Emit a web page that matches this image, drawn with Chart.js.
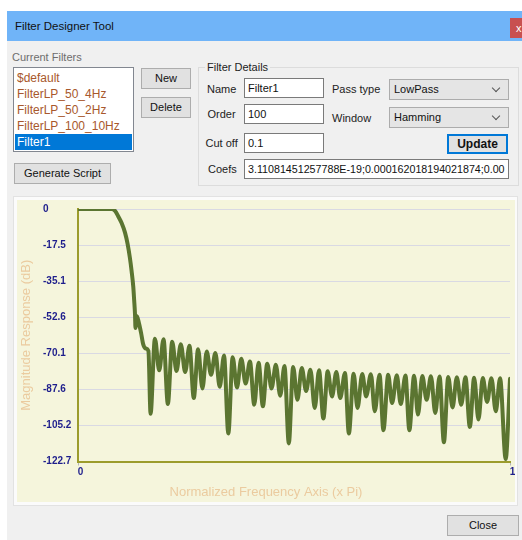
<!DOCTYPE html>
<html><head><meta charset="utf-8">
<script src="https://cdn.jsdelivr.net/npm/chart.js@4.4.1/dist/chart.umd.min.js"></script>
<style>
html,body{margin:0;padding:0;background:#fff;width:522px;height:540px;overflow:hidden;font-family:"Liberation Sans",Arial,sans-serif;font-size:11px;color:#1e1e1e}
.a{position:absolute;box-sizing:border-box}
.lbl{position:absolute;line-height:14px;white-space:nowrap;color:#222}
.btn{position:absolute;box-sizing:border-box;background:#e1e1e1;border:1px solid #adadad;text-align:center;white-space:nowrap;color:#111;line-height:19px}
.tb{position:absolute;box-sizing:border-box;background:#fff;border:1px solid #7a7a7a;padding-left:3px;white-space:nowrap;overflow:hidden;color:#111;height:20px;line-height:18px}
.cb{position:absolute;box-sizing:border-box;background:#e5e5e5;border:1px solid #acacac;padding-left:4px;color:#111;height:21px;line-height:19px;width:120px;left:389px}
.chev{position:absolute;right:9px;top:5px;width:5px;height:5px;border-right:1px solid #555;border-bottom:1px solid #555;transform:rotate(45deg)}
.item{position:absolute;left:15px;width:117px;height:16px;line-height:16px;padding-left:2px;font-size:12px;color:#a8582c;white-space:nowrap;box-sizing:border-box}
</style></head>
<body>
<div class="a" style="left:7px;top:11px;width:515px;height:30px;background:#70b4f8"></div>
<div class="lbl" style="left:15px;top:19px;font-size:11.5px;color:#111">Filter Designer Tool</div>
<div class="a" style="left:510px;top:18px;width:12px;height:20px;background:#c85050;color:#fff;line-height:20px;padding-left:6px;font-size:11px">x</div>
<div class="a" style="left:7px;top:41px;width:515px;height:499px;background:#f0f0f0"></div>

<div class="lbl" style="left:12px;top:50px;color:#6d6d6d">Current Filters</div>
<div class="a" style="left:13px;top:67px;width:121px;height:85px;background:#fff;border:1px solid #828790"></div>
<div class="item" style="top:69.5px">$default</div>
<div class="item" style="top:85.5px">FilterLP_50_4Hz</div>
<div class="item" style="top:101.5px">FilterLP_50_2Hz</div>
<div class="item" style="top:117.5px">FilterLP_100_10Hz</div>
<div class="item" style="top:133.5px;background:#0078d7;color:#fff">Filter1</div>

<div class="btn" style="left:141px;top:68px;width:50px;height:21px">New</div>
<div class="btn" style="left:141px;top:97px;width:50px;height:21px">Delete</div>
<div class="btn" style="left:14px;top:163px;width:97px;height:21px">Generate Script</div>

<div class="a" style="left:198px;top:67px;width:321px;height:119px;border:1px solid #dcdcdc"></div>
<div class="lbl" style="left:205px;top:60px;background:#f0f0f0;padding:0 2px">Filter Details</div>
<div class="lbl" style="left:207px;top:82px">Name</div>
<div class="lbl" style="left:207.5px;top:107px">Order</div>
<div class="lbl" style="left:205.5px;top:136px">Cut off</div>
<div class="lbl" style="left:208px;top:162px">Coefs</div>
<div class="lbl" style="left:332px;top:82px">Pass type</div>
<div class="lbl" style="left:332px;top:111px">Window</div>
<div class="tb" style="left:244px;top:78px;width:80px">Filter1</div>
<div class="tb" style="left:244px;top:104px;width:80px">100</div>
<div class="tb" style="left:244px;top:133px;width:80px">0.1</div>
<div class="tb" style="left:244px;top:159px;width:265px;font-size:10.7px">3.11081451257788E-19;0.000162018194021874;0.00</div>
<div class="cb" style="top:79px">LowPass<span class="chev"></span></div>
<div class="cb" style="top:107px">Hamming<span class="chev"></span></div>
<div class="btn" style="left:447px;top:134px;width:61px;height:20px;border:2px solid #0078d7;font-weight:bold;font-size:12px;line-height:16px">Update</div>

<div class="a" style="left:13px;top:196px;width:505px;height:310px;border:1px solid #e2e2e2;background:#fbfbfb"></div>
<div class="a" style="left:17px;top:200px;width:498px;height:302px;background:#f5f5dc"></div>
<canvas id="c" width="498" height="302" style="position:absolute;left:17px;top:200px"></canvas>

<div class="btn" style="left:447px;top:515px;width:72px;height:21px">Close</div>

<script>
// Normalized frequency (x Pi) and magnitude (dB)
const freq = [0, 0.078, 0.086, 0.093, 0.101, 0.109, 0.115, 0.120, 0.124, 0.128, 0.130, 0.132, 0.133, 0.136, 0.141, 0.146, 0.151, 0.157, 0.163, 0.168,
  0.178, 0.188, 0.198, 0.208, 0.218, 0.228, 0.238, 0.248, 0.258, 0.268, 0.278, 0.288, 0.298, 0.308, 0.318, 0.328, 0.338, 0.348,
  0.358, 0.368, 0.378, 0.388, 0.398, 0.408, 0.418, 0.428, 0.438, 0.448, 0.458, 0.468, 0.478, 0.488, 0.498, 0.508, 0.518, 0.528,
  0.538, 0.548, 0.558, 0.568, 0.578, 0.588, 0.598, 0.607, 0.618, 0.627, 0.638, 0.647, 0.658, 0.667, 0.678, 0.687, 0.698, 0.707,
  0.718, 0.727, 0.738, 0.747, 0.758, 0.767, 0.778, 0.787, 0.797, 0.807, 0.817, 0.827, 0.837, 0.847, 0.857, 0.867, 0.877, 0.887,
  0.897, 0.907, 0.917, 0.927, 0.937, 0.947, 0.957, 0.967, 0.977, 0.990, 1.000];
const magDb = [0, 0, -1, -3.5, -6.8, -11.6, -17.2, -23.6, -30, -37.9, -44.3, -51.4, -57.8, -52, -55.4, -60.2, -65.8, -67.8, -69, -99.5,
  -63.0, -78.4, -63.3, -94.8, -64.5, -78.7, -65.7, -79.2, -66.5, -91.9, -68.1, -87.2, -69.3, -80.5, -70.0, -86.4, -71.2, -109.1,
  -72.0, -86.8, -72.8, -84.8, -74.1, -95.1, -74.7, -95.9, -75.2, -87.2, -75.7, -90.7, -76.3, -113.9, -76.8, -92.7, -77.3, -88.4,
  -78.1, -96.7, -78.4, -101.8, -78.9, -91.1, -79.2, -91.9, -79.7, -109.1, -80.0, -96.7, -80.2, -91.1, -80.3, -98.3, -80.5, -107.5,
  -80.6, -94.3, -80.8, -94.8, -80.9, -107.5, -81.0, -99.9, -81.2, -92.7, -81.3, -99.1, -81.4, -113.4, -81.6, -96.4, -81.7, -95.1,
  -81.8, -105.9, -82.0, -102.3, -82.1, -93.8, -82.2, -98.3, -82.3, -121.5, -82.5];
const yTickValues = [0, -17.5, -35.1, -52.6, -70.1, -87.6, -105.2, -122.7];
const xTickValues = [0, 1];
const xAxisTitle = 'Normalized Frequency Axis (x Pi)';
const yAxisTitle = 'Magnitude Response (dB)';

const FONT = '"Liberation Sans", Arial, sans-serif';
const TITLE_COLOR = '#ebcb9f';
const TICK_COLOR = '#1e1e8c';
const AXIS_COLOR = '#9c9c2c';

const xTitlePlugin = {
  id: 'panelXTitle',
  afterDraw(chart) {
    const ctx = chart.ctx;
    ctx.save();
    ctx.font = '13px ' + FONT;
    ctx.fillStyle = TITLE_COLOR;
    ctx.textAlign = 'center';
    ctx.textBaseline = 'middle';
    ctx.fillText(xAxisTitle, chart.width / 2, chart.height - 10);
    ctx.restore();
  }
};

new Chart(document.getElementById('c'), {
  type: 'line',
  data: {
    datasets: [{
      data: freq.map((f, i) => ({x: f, y: magDb[i]})),
      borderColor: '#5b7531',
      borderWidth: 4,
      pointRadius: 0,
      cubicInterpolationMode: 'monotone',
      borderJoinStyle: 'round',
      borderCapStyle: 'round',
      fill: false
    }]
  },
  options: {
    responsive: false,
    animation: false,
    devicePixelRatio: 1,
    layout: {padding: {left: 26, right: 5, top: 8, bottom: 0}},
    plugins: {legend: {display: false}, tooltip: {enabled: false}},
    scales: {
      x: {
        type: 'linear', min: 0, max: 1,
        afterBuildTicks: s => { s.ticks = xTickValues.map(v => ({value: v})); },
        afterFit: s => { s.height = 40.5; },
        grid: {display: true, drawOnChartArea: false, drawTicks: true, tickLength: 4, color: '#b5b5b5'},
        border: {display: true, color: AXIS_COLOR, width: 2},
        ticks: {color: TICK_COLOR, font: {family: FONT, size: 10, weight: 'bold'}, padding: 1, labelOffset: 2.5,
                maxRotation: 0, autoSkip: false, callback: v => String(v)},
        title: {display: false}
      },
      y: {
        type: 'linear', min: -122.7, max: 0,
        afterBuildTicks: s => { s.ticks = yTickValues.map(v => ({value: v})); },
        afterFit: s => { s.width = 35; },
        grid: {color: '#d9d9e3', lineWidth: 1, drawTicks: false},
        border: {display: true, color: AXIS_COLOR, width: 2},
        ticks: {crossAlign: 'far', color: TICK_COLOR, font: {family: FONT, size: 10, weight: 'bold'}, autoSkip: false,
                callback: v => String(v)},
        title: {display: true, text: yAxisTitle, color: TITLE_COLOR, font: {family: FONT, size: 13},
                padding: {top: -24.5, bottom: 0}}
      }
    }
  },
  plugins: [xTitlePlugin]
});
</script>
</body></html>
